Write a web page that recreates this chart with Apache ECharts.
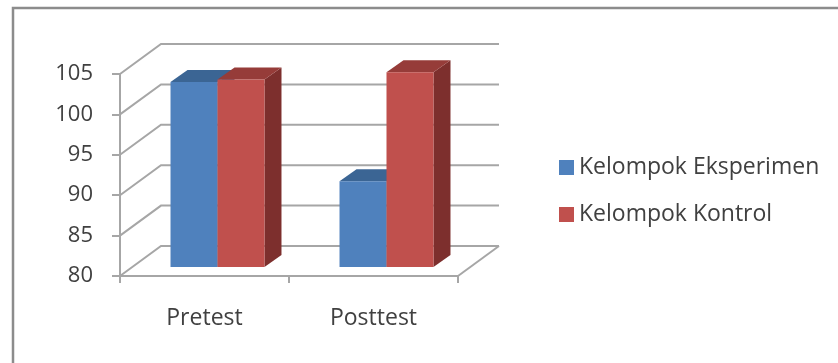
<!DOCTYPE html>
<html>
<head>
<meta charset="utf-8">
<script src="https://cdn.jsdelivr.net/npm/echarts@6/dist/echarts.min.js"></script>
<style>
html,body{margin:0;padding:0;background:#fff;}
#main{width:838px;height:363px;}
</style>
</head>
<body>
<div id="main"></div>
<script>
// data
var categories = ['Pretest', 'Posttest'];
var eksperimen = [102.9, 90.6];
var kontrol = [103.2, 104.1];
var yTicks = [80, 85, 90, 95, 100, 105];

var yMin = 80, yMax = 105;
var wallDx = 41, wallDy = -30;     // back wall offset
var barDx = 13, barDy = -9;        // bar front plane offset
var depthDx = 17, depthDy = -12;   // bar thickness
var gridCol = '#a6a6a6';
var fontName = '"Open Sans", sans-serif';

var chart = echarts.init(document.getElementById('main'));

// gridlines on the side wall, back wall and floor edge
function wallItem(params, api) {
	var v = api.value(0);
	var cs = params.coordSys;
	var p = api.coord([0, v]);
	var y = p[1];
	var x0 = cs.x, x1 = cs.x + cs.width;
	var kids = [{
		type: 'polyline',
		shape: {points: [[x0, y], [x0 + wallDx, y + wallDy], [x1 + wallDx, y + wallDy]]},
		style: {stroke: gridCol, lineWidth: 2, fill: null}
	}];
	if (v === yMin) {
		kids.push({
			type: 'line',
			shape: {x1: x1, y1: y, x2: x1 + wallDx, y2: y + wallDy},
			style: {stroke: gridCol, lineWidth: 2}
		});
	}
	return {type: 'group', children: kids};
}

// 3D-looking bar: front face, top face, right side face
function barItem(side, front, top, sideCol) {
	return function (params, api) {
		var cat = api.value(0), val = api.value(1);
		var pt = api.coord([cat, val]);
		var pb = api.coord([cat, yMin]);
		var band = api.size([1, 0])[0];
		var w = band * 0.278;
		var xa = pt[0] + barDx + (side === 0 ? -w : 0);
		var xb = xa + w;
		var yt = pt[1] + barDy, yb = pb[1] + barDy;
		return {
			type: 'group',
			children: [{
				type: 'polygon',
				shape: {points: [[xb, yt], [xb + depthDx, yt + depthDy], [xb + depthDx, yb + depthDy], [xb, yb]]},
				style: {fill: sideCol}
			}, {
				type: 'polygon',
				shape: {points: [[xa, yt], [xb, yt], [xb + depthDx, yt + depthDy], [xa + depthDx, yt + depthDy]]},
				style: {fill: top}
			}, {
				type: 'rect',
				shape: {x: xa, y: yt, width: w, height: yb - yt},
				style: {fill: front}
			}]
		};
	};
}

function pairs(arr) {
	return arr.map(function (v, i) { return [i, v]; });
}

var option = {
	animation: false,
	grid: {left: 120, right: 380, top: 74, bottom: 87},
	graphic: [{
		type: 'polyline',
		shape: {points: [[13, 363], [13, 8], [838, 8]]},
		style: {stroke: '#8c8c8c', lineWidth: 2.5, fill: null},
		silent: true
	}],
	legend: {
		orient: 'vertical',
		left: 554,
		top: 151,
		itemWidth: 15,
		itemHeight: 15,
		itemGap: 24,
		icon: 'rect',
		data: ['Kelompok Eksperimen', 'Kelompok Kontrol'],
		textStyle: {fontFamily: fontName, fontSize: 23, color: '#404040'}
	},
	xAxis: {
		type: 'category',
		data: categories,
		axisLine: {lineStyle: {color: gridCol, width: 2}},
		axisTick: {show: true, length: 7, lineStyle: {color: gridCol, width: 2}},
		axisLabel: {fontFamily: fontName, fontSize: 23, color: '#404040', margin: 31},
		splitLine: {show: false}
	},
	yAxis: {
		type: 'value',
		min: yMin,
		max: yMax,
		interval: 5,
		axisLine: {show: true, lineStyle: {color: gridCol, width: 2}},
		axisTick: {show: true, length: 8, lineStyle: {color: gridCol, width: 2}},
		axisLabel: {fontFamily: fontName, fontSize: 22, color: '#404040', margin: 27},
		splitLine: {show: false}
	},
	series: [{
		name: 'walls',
		type: 'custom',
		z: 1,
		silent: true,
		renderItem: wallItem,
		encode: {y: 0},
		data: yTicks.map(function (v) { return [v]; })
	}, {
		name: 'Kelompok Eksperimen',
		type: 'custom',
		z: 2,
		itemStyle: {color: '#4f81bd'},
		renderItem: barItem(0, '#4f81bd', '#3b6594', '#355c88'),
		encode: {x: 0, y: 1},
		data: pairs(eksperimen)
	}, {
		name: 'Kelompok Kontrol',
		type: 'custom',
		z: 3,
		itemStyle: {color: '#c0504d'},
		renderItem: barItem(1, '#c0504d', '#963c39', '#7d2f2d'),
		encode: {x: 0, y: 1},
		data: pairs(kontrol)
	}]
};
chart.setOption(option);
</script>
</body>
</html>
